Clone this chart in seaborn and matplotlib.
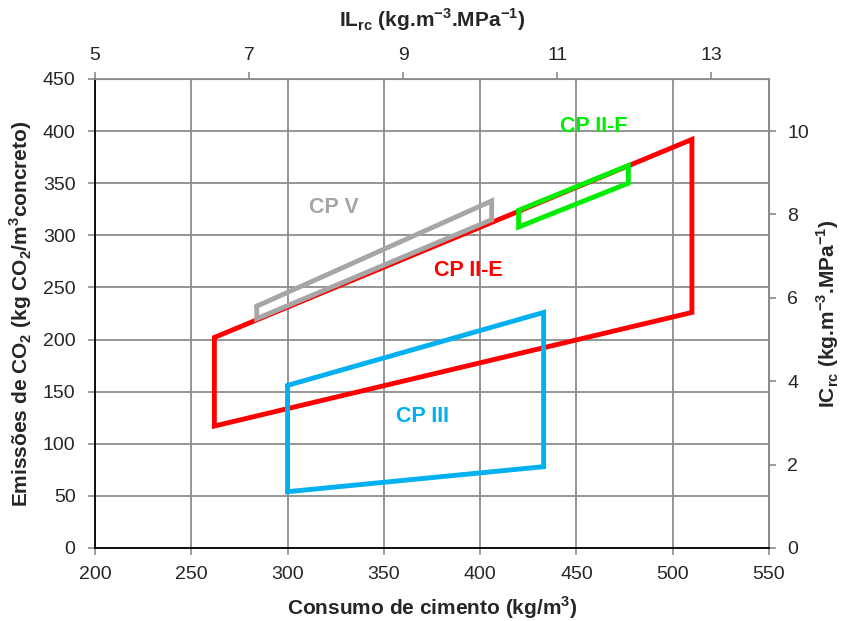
import pandas as pd
import seaborn as sns
import matplotlib.pyplot as plt

# polygon corners (closed)
cp2e_x = [262, 510, 510, 262, 262]
cp2e_y = [202, 392, 226, 117, 202]

cp3_x = [300, 433, 433, 300, 300]
cp3_y = [156, 226, 78, 54, 156]

cp5_x = [284, 406, 406, 284, 284]
cp5_y = [232, 333, 315, 220, 232]

cp2f_x = [420, 477, 477, 420, 420]
cp2f_y = [324, 367, 350, 308, 324]

labels = ["CP II-E", "CP III", "CP V", "CP II-F"]
label_x = [394, 370, 324, 459]
label_y = [266, 126, 327, 404]
colors = ["#FF0000", "#00B0F0", "#A6A6A6", "#00EE00"]

sns.set_style("white")
plt.rcParams["font.family"] = ["Liberation Sans", "DejaVu Sans"]
plt.rcParams["mathtext.fontset"] = "custom"
plt.rcParams["mathtext.rm"] = "Liberation Sans"
plt.rcParams["mathtext.bf"] = "Liberation Sans:bold"

fig = plt.figure(figsize=(8.45, 6.21), dpi=100)
ax = fig.add_axes([0.1124, 0.1176, 0.7976, 0.7552])

series = [(cp2e_x, cp2e_y), (cp3_x, cp3_y), (cp5_x, cp5_y), (cp2f_x, cp2f_y)]
for (xs, ys), c in zip(series, colors):
    df = pd.DataFrame({"x": xs, "y": ys})
    sns.lineplot(data=df, x="x", y="y", sort=False, estimator=None,
                 color=c, linewidth=3.5, ax=ax, solid_joinstyle="miter")

for name, lx, ly, c in zip(labels, label_x, label_y, colors):
    ax.text(lx, ly, name, color=c, fontsize=15.5, fontweight="bold",
            ha="center", va="center")

ax.set_xlim(200, 550)
ax.set_ylim(0, 450)
ax.set_xticks(range(200, 551, 50))
ax.set_yticks(range(0, 451, 50))
ax.grid(True, color="#8C8C8C", linewidth=1.3)
ax.set_axisbelow(True)

for s in ["left", "bottom"]:
    ax.spines[s].set_color("black")
    ax.spines[s].set_linewidth(1.3)
for s in ["top", "right"]:
    ax.spines[s].set_color("#8C8C8C")
    ax.spines[s].set_linewidth(1.3)

ax.tick_params(axis="y", direction="out", length=5, width=1.2, color="#8C8C8C",
               labelsize=14, left=True, pad=9)
ax.tick_params(axis="x", direction="out", length=5, width=1.2, color="#8C8C8C",
               labelsize=14, bottom=True, pad=8)

ax.set_xlabel("Consumo de cimento (kg/m$^\\mathbf{3}$)", fontsize=15,
              fontweight="bold", labelpad=8)
ax.set_ylabel("Emissões de CO$_\\mathbf{2}$ (kg CO$_\\mathbf{2}$/m$^\\mathbf{3}$concreto)",
              fontsize=15, fontweight="bold", labelpad=6)

top = ax.secondary_xaxis("top", functions=(lambda v: v / 40, lambda v: v * 40))
top.set_xticks([5, 7, 9, 11, 13])
top.tick_params(direction="out", length=5, width=1.2, color="#8C8C8C", labelsize=14, pad=6)
top.set_xlabel("IL$_\\mathbf{rc}$ (kg.m$^\\mathbf{-3}$.MPa$^\\mathbf{-1}$)",
               fontsize=15, fontweight="bold", labelpad=14)
top.spines["top"].set_color("#8C8C8C")

right = ax.secondary_yaxis("right", functions=(lambda v: v / 40, lambda v: v * 40))
right.set_yticks([0, 2, 4, 6, 8, 10])
right.tick_params(direction="out", length=5, width=1.2, color="#8C8C8C", labelsize=14, pad=8)
right.set_ylabel("IC$_\\mathbf{rc}$ (kg.m$^\\mathbf{-3}$.MPa$^\\mathbf{-1}$)",
                 fontsize=15, fontweight="bold", labelpad=4)
right.spines["right"].set_color("#8C8C8C")

fig.savefig("out.png", dpi=100)
